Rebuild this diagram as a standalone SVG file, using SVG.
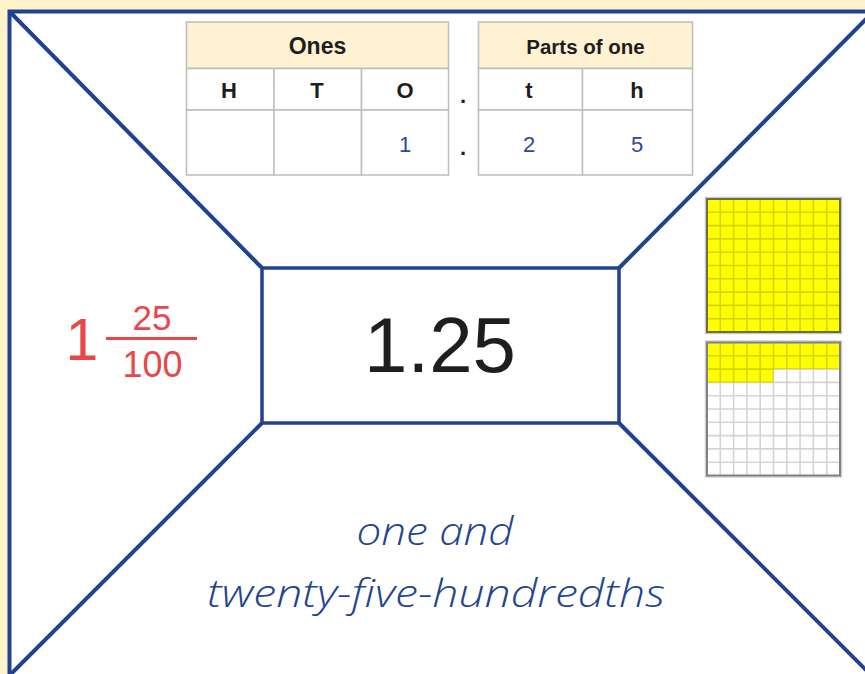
<svg xmlns="http://www.w3.org/2000/svg" width="865" height="674" viewBox="0 0 865 674">
<style>
.frame{fill:none;stroke:#21428f;stroke-width:4}
.tb{fill:#fff;stroke:#bdbdbd;stroke-width:1.5}
.hd{fill:#fef2d3;stroke:#bdbdbd;stroke-width:1.5}
.hdr{font-family:"Liberation Sans",Arial,sans-serif;font-weight:bold;fill:#1e1e1e;text-anchor:middle}
.val{font-family:"Liberation Sans",Arial,sans-serif;font-size:22px;fill:#2a4a9a;text-anchor:middle}
.red{font-family:"Liberation Sans",Arial,sans-serif;fill:#e84848;text-anchor:middle}
.hand{font-family:"Open Sans","Noto Sans","DejaVu Sans",sans-serif;font-style:italic;font-weight:350;font-size:38px;fill:#23448f;text-anchor:middle}
.grid{stroke:#000;stroke-opacity:0.17;stroke-width:1.6;fill:none}
</style>
<defs>
<path id="gl" d="M13.3 0V133M26.6 0V133M39.9 0V133M53.2 0V133M66.5 0V133M79.8 0V133M93.1 0V133M106.4 0V133M119.7 0V133M0 13.3H133M0 26.6H133M0 39.9H133M0 53.2H133M0 66.5H133M0 79.8H133M0 93.1H133M0 106.4H133M0 119.7H133"/>
</defs>
<rect width="865" height="674" fill="#fff3cc"/>
<rect x="10" y="12" width="870" height="680" fill="#fff"/>
<g id="connectors">
<path class="frame" d="M9.5 700V11.5H880"/>
<line class="frame" x1="10" y1="12" x2="262" y2="268"/>
<line class="frame" x1="619" y1="268" x2="873" y2="12"/>
<line class="frame" x1="262" y1="423" x2="10" y2="675"/>
<line class="frame" x1="619" y1="423" x2="872" y2="676"/>
</g>
<g id="center">
<rect x="262" y="268" width="357" height="155" fill="#fff" stroke="#21428f" stroke-width="3.5"/>
<text x="440" y="371.5" font-family="'Liberation Sans',Arial,sans-serif" font-size="78" fill="#1e1e1e" text-anchor="middle">1.25</text>
</g>
<g id="place-value-table">
<rect class="hd" x="186.5" y="22" width="262" height="46.5"/>
<rect class="tb" x="186.5" y="68.5" width="87.5" height="41.5"/>
<rect class="tb" x="274" y="68.5" width="87.5" height="41.5"/>
<rect class="tb" x="361.5" y="68.5" width="87" height="41.5"/>
<rect class="tb" x="186.5" y="110" width="87.5" height="65"/>
<rect class="tb" x="274" y="110" width="87.5" height="65"/>
<rect class="tb" x="361.5" y="110" width="87" height="65"/>
<rect class="hd" x="478.5" y="22" width="214" height="46.5"/>
<rect class="tb" x="478.5" y="68.5" width="104" height="41.5"/>
<rect class="tb" x="582.5" y="68.5" width="110" height="41.5"/>
<rect class="tb" x="478.5" y="110" width="104" height="65"/>
<rect class="tb" x="582.5" y="110" width="110" height="65"/>
<text class="hdr" x="317.5" y="54" font-size="23">Ones</text>
<text class="hdr" x="585.5" y="53.5" font-size="20.5">Parts of one</text>
<text class="hdr" x="229" y="97.5" font-size="22">H</text>
<text class="hdr" x="317" y="97.5" font-size="22">T</text>
<text class="hdr" x="405" y="97.5" font-size="22">O</text>
<text class="hdr" x="529" y="97.5" font-size="22">t</text>
<text class="hdr" x="637" y="97.5" font-size="22">h</text>
<text class="hdr" x="463" y="103" font-size="22">.</text>
<text class="hdr" x="463" y="155" font-size="22">.</text>
<text class="val" x="405" y="151.5">1</text>
<text class="val" x="529" y="151.5">2</text>
<text class="val" x="637" y="151.5">5</text>
</g>
<g id="fraction">
<text class="red" x="82" y="360" font-size="59">1</text>
<text class="red" x="152" y="330" font-size="35">25</text>
<line x1="106" y1="338.5" x2="197" y2="338.5" stroke="#e84848" stroke-width="3"/>
<text class="red" x="152.5" y="376.5" font-size="36">100</text>
</g>
<g id="hundred-square-full" transform="translate(707 199)">
<rect x="-1.5" y="-1.5" width="136" height="136" fill="none" stroke="#c8c8e2" stroke-width="1.5"/>
<rect width="133" height="133" fill="#ffff00"/>
<use href="#gl" class="grid"/>
<rect width="133" height="133" fill="none" stroke="#6f6f30" stroke-width="2"/>
</g>
<g id="hundred-square-part" transform="translate(707 342.5)">
<rect x="-1.5" y="-1.5" width="136" height="136" fill="none" stroke="#d0d0d8" stroke-width="1.5"/>
<rect width="133" height="133" fill="#fff"/>
<path d="M0 0H133V26.6H66.5V39.9H0Z" fill="#ffff00"/>
<use href="#gl" class="grid"/>
<rect width="133" height="133" fill="none" stroke="#808080" stroke-width="2"/>
</g>
<g id="words">
<text class="hand" x="435" y="545" textLength="157" lengthAdjust="spacingAndGlyphs">one and</text>
<text class="hand" x="436" y="606.5" textLength="458" lengthAdjust="spacingAndGlyphs">twenty-five-hundredths</text>
</g>
</svg>
